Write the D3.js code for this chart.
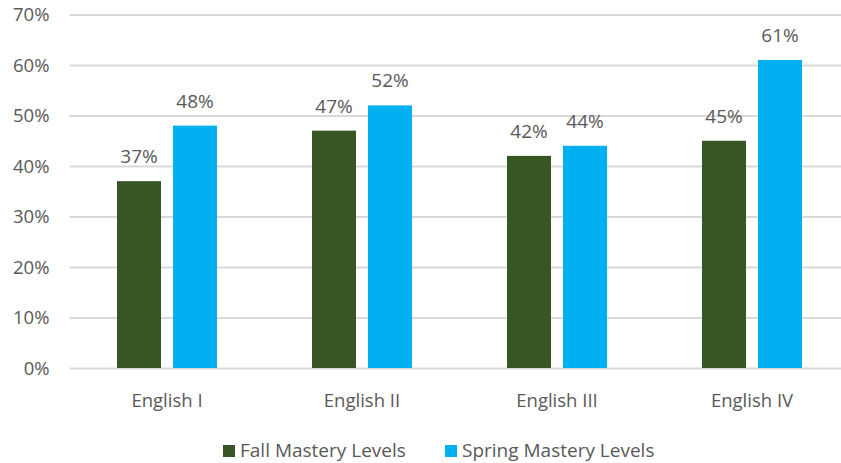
<!DOCTYPE html>
<html><head><meta charset="utf-8">
<script src="https://cdn.jsdelivr.net/npm/d3@7"></script>
<style>body{margin:0;background:#fff}svg text{font-family:"Open Sans",sans-serif;fill:#595959}</style>
</head><body><svg id="c" width="841" height="463"></svg>
<script>
const categories = ["English I","English II","English III","English IV"];
const fallValues = [37,47,42,45];
const springValues = [48,52,44,61];
const seriesNames = ["Fall Mastery Levels","Spring Mastery Levels"];
const yTicks = [0,10,20,30,40,50,60,70];
const colors = ["#375623","#00B0F0"];

const svg = d3.select("#c");
const x = d3.scaleBand().domain(categories).range([69.5,849.5]);
const y = d3.scaleLinear().domain([0,70]).range([368,14.5]);
const bw = x.bandwidth();
const sub = d3.scaleBand().domain([0,1]).range([bw/2-50,bw/2+50]).paddingInner(12/56);

const yAxis = d3.axisLeft(y).tickValues(yTicks).tickFormat(d=>d+"%").tickSize(-780);
const gy = svg.append("g").attr("transform","translate(69.5,0)").call(yAxis);
gy.select(".domain").remove();
gy.selectAll(".tick line").attr("stroke","#d9d9d9").attr("stroke-width",2);
gy.selectAll(".tick text").attr("x",-20).attr("dy","0.35em").style("font-size","18.5px");

const data = [fallValues, springValues];
data.forEach((vals,si)=>{
  svg.append("g").selectAll("rect").data(vals).join("rect")
    .attr("x",(d,i)=>x(categories[i])+sub(si))
    .attr("width",sub.bandwidth())
    .attr("y",d=>y(d)).attr("height",d=>y(0)-y(d))
    .attr("fill",colors[si]);
  svg.append("g").selectAll("text").data(vals).join("text")
    .attr("x",(d,i)=>x(categories[i])+sub(si)+sub.bandwidth()/2)
    .attr("y",d=>y(d)-18).attr("text-anchor","middle")
    .style("font-size","19px").text(d=>d+"%");
});

const xAxis = d3.axisBottom(x).tickSize(0);
const gx = svg.append("g").attr("transform","translate(0,368)").call(xAxis);
gx.select(".domain").remove();
gx.selectAll(".tick text").attr("dy",0).attr("y",39).style("font-size","18.5px");

const legX = [223,445];
const leg = svg.append("g");
seriesNames.forEach((n,i)=>{
  leg.append("rect").attr("x",legX[i]).attr("y",445).attr("width",12).attr("height",12).attr("fill",colors[i]);
  leg.append("text").attr("x",legX[i]+17).attr("y",457).style("font-size","19px").text(n);
});
</script></body></html>
